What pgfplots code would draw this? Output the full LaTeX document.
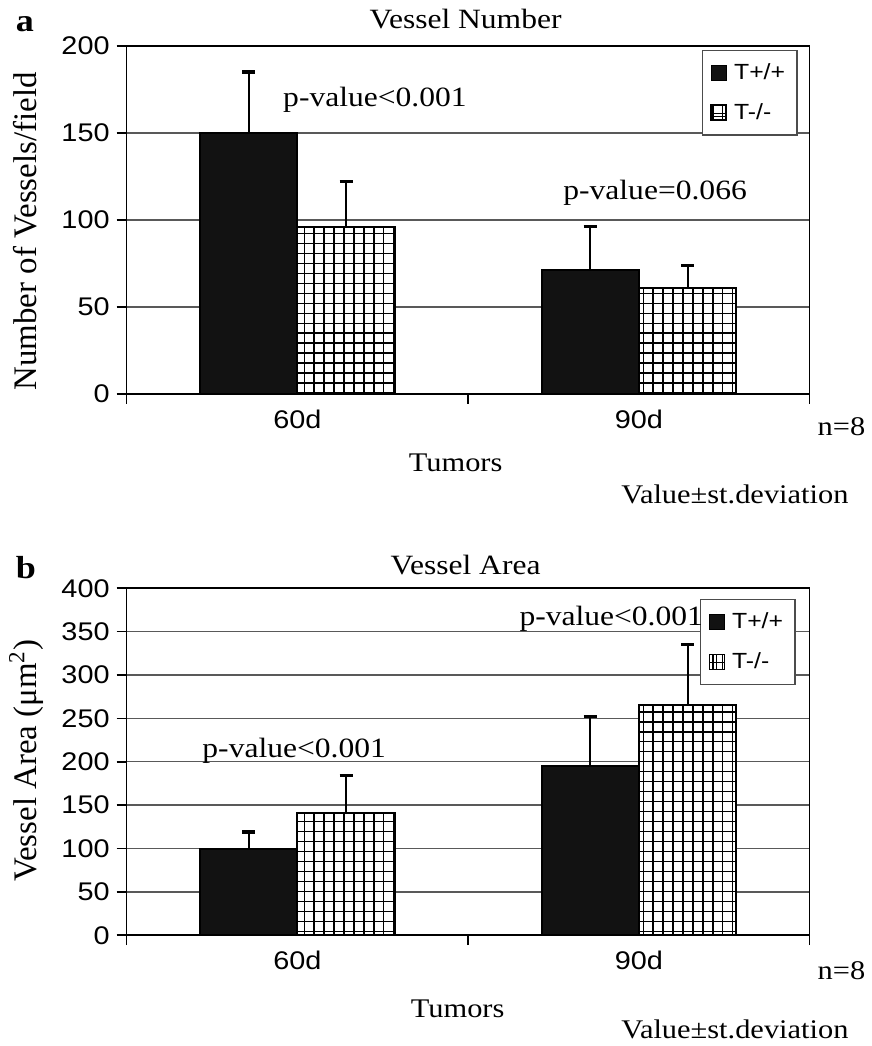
\documentclass[border=0pt]{standalone}
\usepackage{fontspec}
\usepackage{pgfplots}
\pgfplotsset{compat=1.18}
\usetikzlibrary{patterns}
\setmainfont{Liberation Serif}
\newfontfamily\serifS{Liberation Serif}[FakeStretch=1.13]
\newfontfamily\sansS{Liberation Sans}[FakeStretch=1.13]

\pgfdeclarepatternformonly{mygrid}{\pgfpoint{-1pt}{-1pt}}{\pgfpoint{6pt}{6pt}}{\pgfpoint{5pt}{5pt}}{%
  \pgfsetlinewidth{0.6pt}%
  \pgfpathmoveto{\pgfpoint{-1pt}{2.5pt}}\pgfpathlineto{\pgfpoint{6pt}{2.5pt}}%
  \pgfpathmoveto{\pgfpoint{2.5pt}{-1pt}}\pgfpathlineto{\pgfpoint{2.5pt}{6pt}}%
  \pgfusepath{stroke}}

\pgfplotsset{
  panel/.style={
    scale only axis, width=342.5pt,
    xmin=0, xmax=2, ymin=0,
    xtick={0,1,2}, xticklabels={},
    extra x ticks={0.5,1.5}, extra x tick labels={60d,90d},
    extra x tick style={major tick length=0pt, grid=none,
      xticklabel style={yshift=-4.5pt}},
    ymajorgrids, grid style={black!65, line width=0.7pt},
    tick align=outside, tickpos=left, major tick length=5pt,
    axis line style={line width=0.8pt},
    every tick/.style={black, line width=0.8pt},
    tick label style={font=\sansS\fontsize{12.8}{14}\selectfont},
    /pgf/number format/assume math mode=true,
    error bars/y dir=plus, error bars/y explicit,
    error bars/error bar style={line width=1pt, black},
    error bars/error mark options={rotate=90, mark size=3.25pt, line width=1.6pt, black},
    legend style={draw=black!70, line width=0.6pt,
      font=\sansS\fontsize{11}{13}\selectfont,
      cells={anchor=west}, row sep=6.5pt, inner xsep=4pt, inner ysep=4.5pt,
      /tikz/every odd column/.append style={column sep=1.5pt},
      at={(1,1)}, anchor=north east},
  },
  blk/.style={ybar, bar width=0.285, bar shift=0pt, draw=black, line width=1pt, fill=black!93,
    legend image code/.code={\draw[draw=black, line width=0.6pt, fill=black!93] (0pt,-3.75pt) rectangle (7.5pt,3.75pt);}},
  hat/.style={ybar, bar width=0.285, bar shift=0pt, draw=black, line width=1pt, fill=white, postaction={pattern=mygrid}},
  hatA/.style={hat,
    legend image code/.code={\draw[draw=black, line width=0.9pt, fill=white] (0pt,-3.75pt) rectangle (7.5pt,3.75pt);
      \draw[line width=0.5pt] (5.8pt,-3.75pt) -- (5.8pt,3.75pt) (0pt,-2.1pt) -- (7.5pt,-2.1pt);}},
  hatB/.style={hat,
    legend image code/.code={\draw[draw=black, line width=0.8pt, fill=white] (0pt,-3.75pt) rectangle (7.5pt,3.75pt);
      \draw[line width=0.5pt] (3.75pt,-3.75pt) -- (3.75pt,3.75pt) (0pt,0pt) -- (7.5pt,0pt);}},
}

\begin{document}
\begin{tikzpicture}
\begin{scope}[x=0.5pt, y=-0.5pt]
  \useasboundingbox (0,0) rectangle (868,1046);
\end{scope}

% Panel a
\begin{axis}[panel, at={(63.5pt,-23pt)}, anchor=north west, height=174.5pt,
  ymax=200, ytick={0,50,...,200},
  legend style={xshift=-6pt, yshift=-2pt}]
\addplot[blk] coordinates {(0.3575,150) +- (0,35) (1.3575,71) +- (0,25)};
\addplot[hatA] coordinates {(0.6425,96) +- (0,26) (1.6425,61) +- (0,13)};
\legend{T+/+, T-/-}
\end{axis}

% Panel b
\begin{axis}[panel, at={(63.5pt,-295pt)}, anchor=north west, height=174pt,
  ymax=400, ytick={0,50,...,400},
  legend style={xshift=-7pt, yshift=-5.5pt}]
\addplot[blk] coordinates {(0.3575,100) +- (0,19) (1.3575,195) +- (0,57)};
\addplot[hatB] coordinates {(0.6425,141) +- (0,43) (1.6425,266) +- (0,69)};
\legend{T+/+, T-/-}
\end{axis}

\begin{scope}[x=0.5pt, y=-0.5pt]
  \def\ser{\serifS\fontsize{13.5}{16}\selectfont}
  \def\pv{\serifS\fontsize{14}{16}\selectfont}
  % panel a texts
  \node[anchor=base, font=\serifS\bfseries\fontsize{16}{18}\selectfont] at (25,32) {a};
  \node[anchor=base, font=\serifS\fontsize{14}{16}\selectfont] at (467,29) {Vessel Number};
  \node[anchor=base west, font=\ser] at (813,437) {n=8};
  \node[anchor=base, font=\ser] at (457,473) {Tumors};
  \node[anchor=base east, font=\ser] at (858,505) {Value±st.deviation};
  \node[rotate=90, anchor=base, font=\fontsize{16.5}{18}\selectfont] at (37,232) {Number of Vessels/field};
  \node[anchor=base west, font=\pv] at (277,107) {p-value<0.001};
  \node[anchor=base west, font=\pv] at (558,200) {p-value=0.066};
  % panel b texts
  \node[anchor=base, font=\serifS\bfseries\fontsize{16}{18}\selectfont] at (26,580) {b};
  \node[anchor=base, font=\serifS\fontsize{14}{16}\selectfont] at (467,576) {Vessel Area};
  \node[anchor=base west, font=\ser] at (813,982) {n=8};
  \node[anchor=base, font=\ser] at (459,1020) {Tumors};
  \node[anchor=base east, font=\ser] at (858,1042) {Value±st.deviation};
  \node[rotate=90, anchor=base, font=\fontsize{16.5}{18}\selectfont] at (37,763) {Vessel Area (μm\textsuperscript{2})};
  \node[anchor=base west, font=\pv] at (196,760) {p-value<0.001};
  \node[anchor=base west, font=\pv] at (514,627) {p-value<0.001};
\end{scope}
\end{tikzpicture}
\end{document}
